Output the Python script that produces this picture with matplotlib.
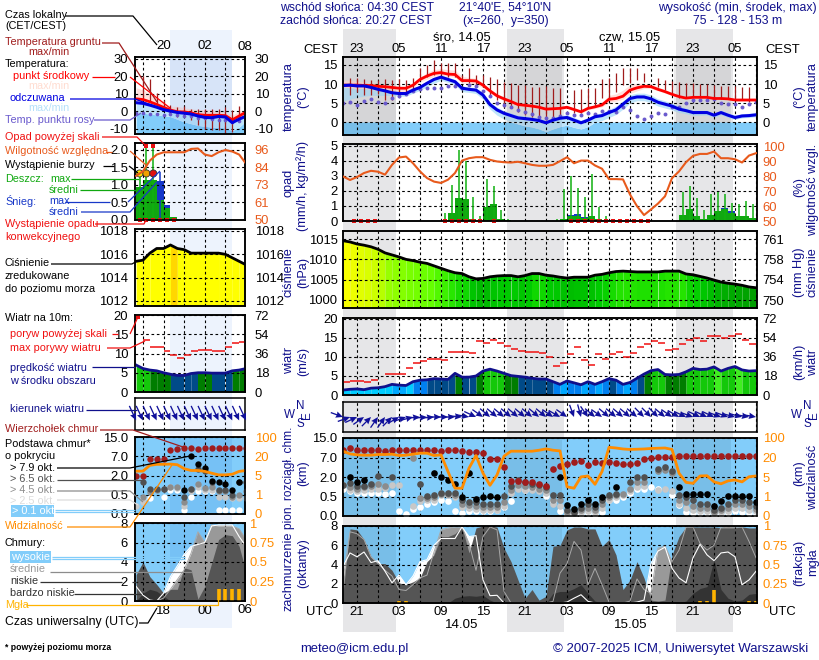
import numpy as np
import matplotlib
matplotlib.use('Agg')
import matplotlib.pyplot as plt
from matplotlib.colors import LinearSegmentedColormap, ListedColormap, BoundaryNorm, Normalize

plt.rcParams['font.family'] = ['Liberation Sans', 'DejaVu Sans']
plt.rcParams['font.size'] = 7.8

n = np.nan

# ---- main panel, hourly from 21 CEST on 13.05 ----
temp_mid = [9.7,9.7,9.7,9.6,9.6,9.4,9.3,9.1,8.9,8.9,9.7,11.2,12.1,12.8,13,12.6,12.5,10.9,10.9,10.8,9.7,8.2,6.9,6.1,5.4,4.6,4.4,4.2,3.9,3.4,
            3.5,3.6,3.9,3.3,2.7,3.6,4,4.5,6,6.2,6.8,8.4,9,9.4,9.3,8.6,8,7.3,6.7,6.3,6.5,6.5,6.5,6.2,6.2,6.1,5.8,5.8,5.8,5.8]
temp_max = [11,11,10.8,10.6,10,9.8,9.5,9.3,9.2,9.2,10,11.8,13,13.8,14,13.8,13.6,12,11.7,11.5,10.3,8.7,7.5,6.6,5.8,5,4.8,4.6,4.2,3.8,
            3.8,3.9,4.2,3.7,3.1,4,4.6,5.3,7,7.4,8.4,9.8,10.2,10.2,10,9.2,8.5,7.6,6.9,6.5,6.7,6.7,6.7,6.4,6.4,6.3,6,6,6,6]
temp_min = [9.2,9,8.8,8.8,8.6,8.2,8,8,8,8,9,10.5,11.3,12,12.3,12,11.8,10.2,10.2,10,9,7.6,6.4,5.6,5,4.2,4,3.8,3.5,3,
            3.1,3.2,3.5,2.9,2.3,3.2,3.6,4,5.2,5.5,6,7.5,8.2,8.8,8.8,8.2,7.6,7,6.4,6,6.2,6.2,6.2,5.9,5.9,5.8,5.5,5.5,5.5,5.5]
felt = [9.6,9.7,9.5,9.5,9.1,8.6,8.2,7.7,7.5,7.5,8.4,9.1,10.2,11.2,11.8,11.2,10.6,8.9,8.6,8.4,7.1,4.6,3.2,2.3,1.7,1.1,.9,.7,.4,-.2,
        .5,1,1.2,.5,-.2,.5,1.4,1.7,2.5,3.2,4.7,6.2,6.6,6.6,6.1,5.2,4.7,4.2,3.4,3,2.5,2.5,2.5,1.8,2.5,1.8,1.2,1.6,1.7,1.9]
felt_max = [9.8,9.8,9.7,9.7,9.4,8.9,8.6,8.1,7.9,7.9,8.8,9.6,10.7,11.8,12.4,11.8,11.2,9.5,9.2,9,7.7,5.2,3.9,3,2.4,1.8,1.6,1.4,1,.5,
            1.2,1.7,1.9,1.2,.5,1.2,2.1,2.4,3.3,4.2,5.6,7.2,7.6,7.6,7.1,6.1,5.6,5,4.2,3.7,3.1,3.1,3.1,2.4,3.1,2.4,1.8,2.2,2.3,2.5]
felt_min = [5.5,6,6.5,6.8,7,7,7,7,6.8,6.8,7.6,8.3,9.3,10.2,11,10.4,9.8,8,7.8,7.5,6,3.4,1.8,.8,.2,-.5,-1,-1.3,-1.8,-2.5,
            -1.8,-1.2,-.8,-1.4,-1.8,-1.2,0,.4,1.2,2,3.4,5,5.6,5.6,5.1,4.2,3.7,3.2,2.5,2.2,1.8,1.8,1.8,1.2,1.9,1.2,.7,1.1,1.2,1.4]
dew = [4.9,5.2,4.5,5.6,6,5.4,4.9,6.2,6.8,7.5,8.2,8.6,8.9,8.9,9,9.6,9.6,9,9.7,9.5,8.2,6.8,5,4.5,3.9,3.2,2.6,2.1,1.4,1,
       1,1.7,2.5,1.8,1.8,2.5,2.1,2.9,2.9,2.7,4,3.2,1.7,.7,1.7,2.3,2,4,4,5,5.8,5.8,5.8,6,4.9,4.7,4.7,3.9,4.7,5.3]
ground_top = [n,11.5,11.5,11.2,11,11,11.2,11,11.2,11,11.5,14.1,15,16.3,15.4,15.4,15.4,12.4,14.1,12.4,12.4,11.8,11.2,10.6,10.2,9.7,9.7,9.3,9.1,9.5,
              8.9,8.9,n,8.4,8.6,8.9,8.9,11.3,11.5,12.8,14.3,14.3,14.1,13,n,11.5,11,10.8,10.4,10.2,10.2,10,10,9.7,9.5,9.5,9.5,9.3,9.1,n]
ground_bot = [n,7.1,8,7.1,7.1,7.5,5.8,5.8,7.5,7.5,8.4,11,11.9,12.4,12.4,11.9,11.9,11,10.2,9.7,9.3,6.7,5.8,4,3.6,2.7,1.8,1.4,1.4,.5,
              1.4,1.8,n,2.3,2.3,4,4,6.2,6.2,8,9.7,10.2,11,10.6,n,9.3,8.4,7.1,6.2,6.2,6.7,6.7,6.2,6.2,6,6,5.8,5.8,5.4,n]

humidity = [80.1,77.7,79.7,82.4,83.9,83.3,81.3,87.9,92.9,93.5,89,83.5,79,76.6,75.7,77.9,82.4,90.8,92.4,93.1,93.1,91.3,90.2,89.7,89.5,90,89,87.9,87.3,87.3,
            87.9,90.4,93.1,89,90.8,90.8,87.5,85.3,78.3,78.3,78.1,67.9,60,54,57.8,61.8,66.7,79,83.5,89.7,94,95.3,95.3,96.9,92.4,92.4,91.7,89.5,94.2,95.8]
rain_mean = [0]*15 + [.5,1.55,1.45,.1,0,.9,1.1,.1,.05] + [0]*7 + [.1,.33,.33,.2,.3,.15,.05,.05] + [0]*9 + [.38,.8,.33,.1,.38,.65,.8,.55,.33,.33,.2]
rain_max = [0]*14 + [.5,2.4,4.7,4,1.6,.3,2.8,2.3,.75,.1] + [0]*6 + [.1,2.1,3,2.2,1.6,3.1,.9,.3,.15,.1] + [0]*8 + [1.9,2.3,1.5,.7,1.8,1.9,1.8,1.2,1.1,1.3,1.1]
snow_mean = [0]*32 + [.08,.12,.05,.05] + [0]*18 + [.05,.1] + [0]*3
conv_hours = [1,2,3,4,14,15,16,17,18,19,21,32,33,34,35,36,37,38,39,40,41,42,43]

pressure = [1014.6,1014.3,1013.8,1013.5,1013.1,1012.5,1011.6,1011.1,1010.6,1010,1009.7,1009.3,1009,1008.4,1007.8,1007.2,1006.7,1006.5,1005.7,1005.2,1005.3,1005.7,1005.9,1006,1006,1005.7,1006,1006.5,1006.5,1006.1,
            1005.9,1005.6,1005.4,1005.6,1005.6,1005.6,1006.1,1006.3,1006.7,1007,1007.1,1007,1006.9,1006.9,1006.9,1006.9,1007.1,1007.1,1007.1,1006.4,1006.2,1005.8,1005.4,1004.9,1004.4,1004.1,1003.9,1003.6,1003.2,1003]

wind = [1.3,1.5,1.6,1.4,1.8,1.9,2.2,2.8,2.6,2.5,3.5,3.9,4,4.3,4.2,4.1,5.7,4.7,4.7,5,6.3,6.8,6.3,5.7,5.1,4.9,4.7,4.4,4.2,4.2,
        3.5,2.8,3.7,3.2,2.7,3.5,2.8,3.5,4.3,3.9,2.8,3.3,4.4,5.5,6.4,6.7,5.4,5.3,5.4,6.1,7,6.7,6.8,7.4,6.3,7,7.5,6.6,6.3,6.4]
gust = [3.5,3.7,3.7,3.4,3.9,n,5.4,5.4,5.4,7,8.4,8.9,9.6,9.6,9.1,11.4,11.4,11.3,11,14.1,13.8,14.4,13.8,13,12,11.7,11.4,11.4,11.1,9.9,
        7.5,8.4,10.7,12.5,9.3,7.8,10.7,9.6,10.7,11.2,9.9,11,12.7,13.4,14.1,13.6,11.8,12.2,13.4,14.6,14.9,14.1,15.4,15.4,15.1,15.4,16,14.4,13.4]
wind_dir = [290,250,245,235,225,215,215,225,240,250,255,265,265,265,270,270,270,275,280,295,305,310,310,310,310,310,310,310,310,310,
            305,300,305,340,345,325,310,305,310,310,310,310,310,315,315,315,310,305,300,295,290,295,295,295,290,290,285,285,280,280]

cloud_top = [10.2,10.8,10.2,10.2,10.2,10.2,9.8,10.2,10.2,10.2,10.2,10.2,10.2,10.2,9.8,10,10,9.8,9.3,9.3,8.9,6.7,6.7,4.5,1.7,1.7,1.6,1.6,1.5,1.3,
             4.1,4.9,5.4,5.9,6,5.1,5.8,5.7,5.8,5.6,5.3,5.3,5.6,6.5,7,7.2,7.3,7.3,7.7,7.7,7.7,7.7,7.7,7.7,7.7,7.7,7.7,7.7,7.7,7.7]
base_black = [n,2.05,1.6,1.8,n,n,n,n,n,n,n,n,n,2.9,2,1.8,1.5,.5,3.1,.43,.5,.55,.5,n,n,n,n,n,n,n,
              n,2,.28,.18,.3,.4,.31,.5,n,1.2,n,n,n,n,n,n,n,n,1.2,.73,.7,.73,.73,.26,.38,.55,.55,.52,.52,.35]
base_dark = [1.4,1.55,1.3,1.3,1.5,2.3,n,2.05,n,n,n,1.5,.55,.6,.8,.8,.8,.4,.37,.35,.32,.31,.31,.55,1.27,1.75,1.6,1.5,1.4,1.2,
             .6,.6,.15,.1,.2,.3,.22,.4,.6,.7,n,1.65,2.1,2.1,n,4,4.5,3.5,.6,.5,.4,.3,.3,.15,.2,.3,.4,.4,.35,.25]
base_mid = [n,1.2,1.1,1.2,1.3,1.5,1.3,n,n,n,7,.45,.45,.5,.7,.7,.6,.3,.28,.25,.22,.22,.22,.35,1,1.4,1.3,1.2,1.1,1,
            .4,.4,.1,.08,.15,.2,.15,.3,.5,.6,.7,1.1,1.6,1.6,n,3.5,3.8,3,.4,.35,.25,.2,.2,.1,.15,.2,.3,.3,.25,.18]
base_light = [1.35,1,.95,1,1.1,1.1,1.15,1.4,1.35,n,.25,.38,.42,.42,.6,.6,.5,.22,.2,.18,.16,.16,.16,.25,.8,1.1,1,1,.9,.8,
              .3,.25,.06,.05,.1,.13,.1,.2,.4,.5,.6,.9,1.2,1.3,n,1,1.05,.9,.3,.2,.15,.14,.14,.08,.1,.12,.2,.2,.15,.12]
base_white = [1.1,.9,.8,.8,.8,.75,.7,.8,.13,.06,.18,.22,.3,.35,.42,.38,.13,.08,.12,.12,.12,.12,.15,.24,.38,n,1,1.05,1.05,.55,
              .38,.12,.03,.02,.06,.08,.05,.1,.42,.42,.5,.75,1.1,1.1,1.25,1.05,n,.6,.28,.1,.07,.07,.07,.03,.05,.07,.12,.1,.08,.04]
visibility = [45.8,34.9,30.8,29.5,29.5,32.2,32.2,33.6,28.1,29.5,33.6,37.6,37.6,28.1,30.8,9.2,2.7,2.7,11.8,28.1,7.9,3.3,6.6,25.4,45.8,45.8,45.8,45.8,49.8,55.3,
              49.8,47,3,2.7,5.1,5.8,3.5,9.2,62,59,55,53,54,55,57,58,59,53,7.9,3.9,3.7,5.8,6,4,3.6,4.2,4.4,4,5.2,5.8]

cloud_high = [3.8,5.2,4.8,5.3,4.2,4.4,3.3,2.1,2.9,1.9,2.8,4.3,4.5,6,6.7,6.7,6.7,7.9,6.9,7,2.4,.76,.8,0,0,0,0,0,0,0,
              0,0,.1,.5,.86,.17,0,0,0,0,0,0,.1,.3,4.1,5.4,5.8,3.6,2.6,2.1,4.7,6.1,5,4.4,5.2,5.3,4.8,1.9,2.4,3.3]
cloud_mid = [2.4,7.4,7.2,6.6,4.8,4.1,3.4,2.8,1.4,1.3,1.9,2.6,2.9,5.3,7.6,7.8,7.9,7.9,6.2,3.4,6.9,7.9,7.6,1.2,0,0,0,0,0,0,
             .17,3.1,4.1,6.4,5.5,1.9,3.6,1.9,.1,0,0,.2,2.5,1.4,1,5.7,5.9,4.3,5.5,7.9,7.9,6.2,5.5,6,7.9,8,7.9,7.9,6.4,4.7]
cloud_low = [1,7.7,7.6,6.6,4.8,4.1,4.1,3.4,2.1,1.9,2.2,2.6,4.3,5,6.9,6.9,7.2,7.9,5.2,7.8,8,8,7.9,5.7,4.3,2.4,.5,1.4,.3,.7,
             5.9,6,7.6,7.9,7.9,7.7,7.7,5.9,6.6,5,1.4,2.4,4.3,2.6,.3,.2,.3,5,6.9,7.9,7.9,7.9,7.9,7.9,7.8,7.8,7.8,7.9,7.8,7.8]
cloud_vlow = [0,0,0,0,0,0,0,0,.3,.17,0,0,0,0,0,0,.5,.7,.76,.7,.8,.3,0,0,0,0,0,0,0,0,
              1,1.2,1.2,1.5,1.9,1,.2,0,0,0,0,0,0,0,0,0,0,0,0,.2,1,1.5,1.7,4.5,1.4,.5,.2,.3,.9,1]
fog = [0,0,0,0,0,0,0,0,.03,.03,0,0,0,0,0,0,0,0,0,0,0,0,0,0,0,0,0,0,0,0,
       0,0,0,0,0,0,0,0,0,0,0,0,0,0,0,0,0,0,0,0,0,.03,.03,.17,0,0,0,0,.03,.03]

# ---- small panel on the left, hourly from 16 CEST on 13.05 ----
l_temp_mid = [7.2,6.8,5.5,4,2.3,.8,-.2,-.3,-.8,-1.8,-2.2,-2.2,-2.2,-2.4,-4.8,-2.6,-.4]
l_temp_max = [13.5,12.4,10,7.6,5.3,2.9,2.9,2,1.5,1,1,1,.2,-.4,-2.3,.2,.6]
l_temp_min = [6,5.5,4.5,3,1.5,0,-.8,-1,-1.5,-2.5,-3,-3,-3,-3.2,-5.5,-3.5,-1.2]
l_felt = [5,4.6,3.6,2.4,1,.2,-.6,-1,-1.5,-2.6,-3.4,-3.6,-2.9,-3.2,-6.4,-4.4,-2.7]
l_felt_max = [5.3,4.9,3.9,2.7,1.3,.5,-.3,-.7,-1.2,-2.3,-3.1,-3.3,-2.6,-2.9,-6.1,-4.1,-2.4]
l_felt_min = [-1,-1,-1.5,-2,-2.5,-3,-4.5,-6,-7,-8,-8.5,-9,-9,-9.5,-11,-9,-5.5]
l_dew = [-1,-1,-1.5,-1.5,-2,-1.5,-2,-2.5,-2.8,-3.5,-4,-4.5,-4.8,-5,-6,-5.5,-4.5]
l_ground_top = [n,20,18.7,10.5,6.3,3.4,2.5,2.9,1.5,1.5,1.5,1.5,1.5,2.5,.6,2.9,n]
l_ground_bot = [n,6.3,6,4.4,1.5,-2.3,-3.2,-3.2,-5.1,-8,-9.9,-10.9,-10.9,-12.8,-11.8,-3.2,n]

l_humidity = [79,82,89,93,94.5,94.5,94.5,94.5,96.7,97,93,92,94.5,96,95,93,87]
l_rain_mean = [.95,1.15,1.15,.57,.33,.08,0,0,0,0,0,0,0,0,0,0]
l_rain_max = [1.3,2.1,2.1,0,0,0,0,0,0,0,0,0,0,0,0,0]
l_snow_mean = [0,0,0,.53,.1,0,0,0,0,0,0,0,0,0,0,0]
l_snow_max = [0,0,0,1.38,0,0,0,0,0,0,0,0,0,0,0,0]
l_storm = [1.33,1.33,1.33]
l_storm_colors = ['#ffe600', '#f0a000', '#e01010']
l_over_scale = [2.1,2.1]
l_conv_hours = [0,1,2,3,4,5]

l_pressure = [1015.4,1015.5,1016.1,1016.5,1016.5,1016.8,1016.5,1016.4,1016.1,1016.1,1016.1,1016.1,1016.1,1016,1015.7,1015.4,1015.1]

l_wind = [7,6.1,5.7,5.5,5,4.6,4.3,4.3,4.8,5,5,4.9,4.9,4.9,5.5,5.7,6.1]
l_gust = [n,13.4,11.7,11.7,10.6,9.6,8.8,9.7,10.6,10.9,10.9,10.6,10.6,11.7,12.6,13]
l_wind_dir = [335,335,335,335,335,335,335,335,335,335,335,335,335,335,335,335,335]

l_cloud_top = [2,2,6.3,6.3,6.2,9.5,10.2,10.5,10.5,9.9,10.5,10.5,10.5,10.5,10.5,10.5,10.5]
l_base_black = [n,n,n,n,n,n,n,.9,7,4.9,3.9,1.6,1.5,1.3,.9,1.5,n]
l_base_dark = [n,1.5,.95,.95,.95,n,n,.45,.95,3.8,3.2,1.5,.9,.9,.5,1.5,1.5]
l_base_mid = [n,.45,.7,.9,.95,1.1,1.1,.3,.95,1.3,1,1.1,.8,.8,.45,.5,.8]
l_base_light = [.22,.3,n,n,n,1.1,1,.2,.8,1.1,.85,.9,.45,.45,.42,.42,.42]
l_base_white = [n,.42,.42,n,.45,.9,.9,.1,.45,.8,.8,.8,.1,.1,.1,.1,n]
l_visibility = [8.4,8.4,12.9,13.7,13.7,13.9,13.4,10.3,8.9,8.9,8.2,6.8,5.5,5.5,6,8.2,8.9]

l_cloud_high = [1.5,.6,.1,0,.8,2.5,3.6,4.8,5.6,5.8,6,7.7,7.8,7.8,7.8,6.6,5.6]
l_cloud_mid = [0,0,0,0,.3,1.2,2.2,3.2,4.9,7.1,6,7.8,7.7,7.7,7.7,7.4,6.3]
l_cloud_low = [2.7,4,2.5,1.7,.8,1.2,1.2,3.4,3.2,.2,1.5,3.9,6.3,6.8,6.7,5.6,3]
l_cloud_vlow = [0,.8,1.2,1,.5,0,0,0,0,0,0,0,0,0,0,0,0]
l_fog = [0,0,0,0,0,0,0,0,0,0,0,0,.15,.15,.15,.15,0]

# tick labels
hours_main = np.arange(60)
hours_left = np.arange(17)
cest_labels = ['23','05','11','17','23','05','11','17','23','05']
utc_labels = ['21','03','09','15','21','03','09','15','21','03']
left_cest = ['20','02','08']
left_utc = ['18','00','06']
km_ticks = [0,.5,2,7,15]
km_labels = ['0.0','0.5','2.0','7.0','15.0']
vis_ticks = [0,1,5,20,100]
vis_labels = ['0','1','5','20','100']

NAVY = '#10108c'
ORANGE = '#ff8c00'
RH_COL = '#e85a1c'
SKY = '#82cdfa'
RED_D = '#a01c1c'
PURPLE = '#6a5acd'
FOG = '#ffb300'

fig = plt.figure(figsize=(8.2, 6.6), dpi=100, facecolor='white')


def px_axes(x0, y0, x1, y1, z=2):
    # axes placed by pixel box, y counted from the top of the image
    ax = fig.add_axes([x0/820, 1-y1/660, (x1-x0)/820, (y1-y0)/660], zorder=z)
    ax.patch.set_alpha(0)
    for s in ax.spines.values():
        s.set_linewidth(1.1)
    ax.tick_params(length=0)
    return ax


bg = px_axes(0, 0, 820, 660, z=0)
bg.set_xlim(0, 820)
bg.set_ylim(660, 0)
bg.axis('off')
for a, b in [(343, 396), (507, 564), (676, 733)]:
    bg.axvspan(a, b, ymin=1-632/660, ymax=1-29/660, color='#e6e6e8', lw=0)
bg.axvspan(170, 232, ymin=1-628/660, ymax=1-30/660, color='#edf3fd', lw=0)

ov = px_axes(0, 0, 820, 660, z=10)
ov.set_xlim(0, 820)
ov.set_ylim(660, 0)
ov.axis('off')


def main_axes(y0, y1, top=False, bottom=False):
    ax = px_axes(343, y0, 757, y1)
    ax.set_xlim(0, 59.14)
    ax.set_xticks(np.arange(2, 60, 3))
    labels = [''] * 20
    if top or bottom:
        src = cest_labels if top else utc_labels
        labels = [src[i//2] if i % 2 == 0 else '' for i in range(20)]
    ax.set_xticklabels(labels, fontsize=9.4)
    if top:
        ax.xaxis.tick_top()
    ax.tick_params(axis='x', pad=1.5 if top else 2.5, length=0)
    ax.grid(True, color='black', lw=0.8, ls=(0, (2.4, 2.4)))
    return ax


def left_axes(y0, y1, top=False, bottom=False):
    ax = px_axes(135, y0, 245, y1)
    ax.set_xlim(-0.16, 15.85)
    ax.set_xticks(np.arange(1, 16, 3))
    ax.set_xlim(-0.16, 15.85)
    labels = [''] * 5
    ax.set_xticklabels(labels)
    if top:
        ax.xaxis.tick_top()
    ax.tick_params(axis='x', length=0)
    ax.grid(True, color='black', lw=0.8, ls=(0, (2.4, 2.4)))
    return ax


def ticks_both(ax, ticks, labels, r_ticks, r_labels, r_lim, l_col='black', r_col='black', pad_l=4, pad_r=4, scale=None):
    ax.set_yticks(ticks)
    ax.set_yticklabels(labels, color=l_col, fontsize=9.4)
    ax.tick_params(axis='y', pad=pad_l, length=0)
    tw = ax.twinx()
    tw.patch.set_alpha(0)
    if scale is not None:
        tw.set_yscale('function', functions=scale)
    tw.set_ylim(*r_lim)
    tw.set_yticks(r_ticks)
    tw.set_yticklabels(r_labels, color=r_col, fontsize=9.4)
    tw.minorticks_off()
    tw.tick_params(axis='y', pad=pad_r, length=0)
    for s in tw.spines.values():
        s.set_linewidth(1.1)
    return tw


def draw_temp(ax, h, mid, tmax, tmin, fl, fmax, fmin, dw, gt, gb, dot=8):
    bottom = ax.get_ylim()[0]
    ax.fill_between(h, bottom, np.minimum(0, fmin), color=SKY, lw=0, zorder=0.9)
    ax.fill_between(h, fmin, fmax, color='#bfe5fb', lw=0, zorder=0.95)
    ax.fill_between(h, tmin, tmax, color='#ffe0dc', lw=0, zorder=0.96)
    ax.vlines(h, gb, gt, color=RED_D, lw=0.9, zorder=2)
    ax.scatter(h, dw, s=dot, color=PURPLE, lw=0, zorder=2.2, marker='o')
    ax.plot(h, mid, color='#ff0000', lw=2, zorder=3)
    ax.plot(h, fl, color='#0000e0', lw=2.2, zorder=3.1)


def draw_rain(ax, tw, h, mean, rmax, snow, rh, conv):
    ib = np.arange(len(mean)) + 0.5
    ax.bar(ib, np.array(mean) + np.array(snow), width=1, color='#1838c8', lw=0)
    ax.bar(ib, mean, width=1, color='#10a810', lw=0)
    ax.vlines(ib, 0, rmax, color='#10b010', lw=1.1, zorder=2)
    ax.scatter(np.array(conv) + 0.5, [0]*len(conv), s=7, marker='s', color='#e81010', lw=0, clip_on=False, zorder=4)
    tw.plot(h, rh, color=RH_COL, lw=1.5, zorder=3)


def segments(ax, h, v, bottom, cmap, norm):
    # one coloured slice per time step under the curve
    for i in range(len(h)-1):
        ax.fill_between(h[i:i+2], bottom, v[i:i+2], color=cmap(norm(v[i])), lw=0, zorder=0.9, antialiased=False)


def draw_dirs(ax, h, d, length=13, level=0):
    rad = np.radians(d)
    ax.quiver(h, np.full(len(h), level), -np.sin(rad), -np.cos(rad), angles='uv', scale_units='dots', scale=1/length,
              units='dots', width=1.3, headwidth=5, headlength=5.5, headaxislength=5, pivot='tip', color='#10109a',
              zorder=3, clip_on=False)
    ax.set_ylim(-1, 1)
    ax.set_yticks([])


def km_fw(v):
    return np.interp(v, km_ticks, [0, 1, 2, 3, 4])


def km_inv(v):
    return np.interp(v, [0, 1, 2, 3, 4], km_ticks)


def vis_fw(v):
    return np.interp(v, vis_ticks, [0, 1, 2, 3, 4])


def vis_inv(v):
    return np.interp(v, [0, 1, 2, 3, 4], vis_ticks)


def draw_base(ax, h, top, black, dark, mid, light, white, s=23):
    for vals, col in [(white, 'white'), (light, '#c8c8c8'), (mid, '#8c8c8c'), (dark, '#505050'), (black, 'black')]:
        ax.scatter(h, vals, s=s, color=col, lw=0, zorder=3)
    ax.scatter(h, top, s=s, color=RED_D, lw=0, zorder=3.5)


def draw_cloud(ax, h, high, mid, low, vlow, foglev):
    ax.fill_between(h, 0, high, color='white', lw=0, zorder=1.1)
    ax.fill_between(h, 0, mid, color='#999999', lw=0, zorder=1.2)
    ax.fill_between(h, 0, low, color='#555555', lw=0, zorder=1.3)
    ax.fill_between(h, 0, vlow, color='#333333', lw=0, zorder=1.4)
    ax.plot(h, mid, color='#a8a8a8', lw=0.7, zorder=2)
    ax.plot(h, high, color='white', lw=0.8, zorder=2.1)
    ax.vlines(h, 0, np.array(foglev)*8, color=FOG, lw=2.6, zorder=3)


cmap_press = LinearSegmentedColormap.from_list('press', [
    (0.0, '#009c00'), (0.14, '#00b400'), (0.22, '#00cc00'), (0.32, '#33ee00'), (0.43, '#66ff00'),
    (0.62, '#99ff00'), (0.72, '#ccff00'), (0.85, '#ffff00'), (0.975, '#ffff00'), (1.0, '#ffb400')])
norm_press = Normalize(1003, 1017)
cmap_wind = ListedColormap(['#00ccff', '#00a8ff', '#0080f0', '#004a88', '#007d00', '#14c80a', '#40ee20'])
norm_wind = BoundaryNorm([0, 2.6, 3.2, 4.0, 5.0, 6.0, 7.2, 30], 7)

# ---- main column ----
ax = main_axes(57, 135, top=True)
ax.set_ylim(-3.4, 17.1)
ticks_both(ax, [0, 5, 10, 15], ['0', '5', '10', '15'], [0, 5, 10, 15], ['0', '5', '10', '15'], (-3.4, 17.1))
draw_temp(ax, hours_main, temp_mid, temp_max, temp_min, felt, felt_max, felt_min, dew, ground_top, ground_bot)
for a, b in [(0, 7.57), (23.14, 31.3), (47.3, 55.4)]:
    ax.axvspan(a, b, color='black', alpha=0.07, lw=0, zorder=0.99)

ax = main_axes(144, 221)
ax.set_ylim(0, 5.13)
tw = ticks_both(ax, [0, 1, 2, 3, 4, 5], ['0', '1', '2', '3', '4', '5'], [50, 60, 70, 80, 90, 100],
                ['50', '60', '70', '80', '90', '100'], (50, 102), r_col=RH_COL)
draw_rain(ax, tw, hours_main, rain_mean, rain_max, snow_mean, humidity, conv_hours)

ax = main_axes(231, 308)
ax.set_ylim(998, 1017)
ticks_both(ax, [1000, 1005, 1010, 1015], ['1000', '1005', '1010', '1015'], [750, 753.8, 757.6, 761.3],
           ['750', '754', '758', '761'], (748.56, 762.8))
segments(ax, hours_main, pressure, 998, cmap_press, norm_press)
ax.plot(hours_main, pressure, color='black', lw=2, zorder=3)

ax = main_axes(318, 395)
ax.set_ylim(0, 20.26)
ticks_both(ax, [0, 5, 10, 15, 20], ['0', '5', '10', '15', '20'], [0, 18, 36, 54, 72],
           ['0', '18', '36', '54', '72'], (0, 72.9))
segments(ax, hours_main, wind, 0, cmap_wind, norm_wind)
ax.plot(hours_main, wind, color='#10108c', lw=2, zorder=3)
ax.hlines(gust, np.arange(len(gust)), np.arange(len(gust))+1, color='#f01010', lw=1.1, zorder=3)

ax = main_axes(402, 432)
draw_dirs(ax, hours_main, wind_dir, length=13)

ax = main_axes(438, 516)
ax.patch.set_alpha(1)
ax.patch.set_facecolor(SKY)
ax.set_yscale('function', functions=(km_fw, km_inv))
ax.set_ylim(0, 15)
ax.minorticks_off()
tw = ticks_both(ax, km_ticks, km_labels, vis_ticks, vis_labels, (0, 100), r_col=ORANGE, scale=(vis_fw, vis_inv))
tw.plot(hours_main, visibility, color=ORANGE, lw=2, zorder=2)
draw_base(ax, hours_main, cloud_top, base_black, base_dark, base_mid, base_light, base_white)
for a, b in [(0, 7.57), (23.14, 31.3), (47.3, 55.4)]:
    ax.axvspan(a, b, color='black', alpha=0.07, lw=0, zorder=0.9)

ax = main_axes(526, 603, bottom=True)
ax.patch.set_alpha(1)
ax.patch.set_facecolor(SKY)
ax.set_ylim(0, 8)
ticks_both(ax, [0, 2, 4, 6, 8], ['0', '2', '4', '6', '8'], [0, .25, .5, .75, 1],
           ['0', '0.25', '0.5', '0.75', '1'], (0, 1), r_col=ORANGE)
draw_cloud(ax, hours_main, cloud_high, cloud_mid, cloud_low, cloud_vlow, fog)
for a, b in [(0, 7.57), (23.14, 31.3), (47.3, 55.4)]:
    ax.axvspan(a, b, color='black', alpha=0.07, lw=0, zorder=0.9)

# ---- left column ----
ax = left_axes(57, 134, top=True)
ax.set_xticklabels(['', left_cest[0], '', left_cest[1], ''], fontsize=9.6)
ax.set_ylim(-12.9, 31.1)
ticks_both(ax, [-10, 0, 10, 20, 30], ['-10', '0', '10', '20', '30'], [-10, 0, 10, 20, 30],
           ['-10', '0', '10', '20', '30'], (-12.9, 31.1), pad_l=5, pad_r=7)
draw_temp(ax, hours_left, l_temp_mid, l_temp_max, l_temp_min, l_felt, l_felt_max, l_felt_min, l_dew, l_ground_top, l_ground_bot, dot=7)
ax.axvspan(4.9, 13.9, color='#0050c8', alpha=0.09, lw=0, zorder=0.99)

ax = left_axes(143, 220)
ax.set_ylim(0, 2.2)
tw = ticks_both(ax, [0, .5, 1, 1.5, 2], ['0.0', '0.5', '1.0', '1.5', '2.0'], [50, 61.5, 73, 84.5, 96],
                ['50', '61', '73', '84', '96'], (50, 100.6), r_col=RH_COL, pad_l=5, pad_r=7)
draw_rain(ax, tw, hours_left, l_rain_mean, l_rain_max, l_snow_mean, l_humidity, l_conv_hours)
ib = np.arange(16) + 0.5
ax.vlines(ib, 0, l_snow_max, color='#1838c8', lw=1.1, zorder=2)
ax.scatter(ib[:3], l_storm, s=26, color=l_storm_colors, edgecolor='#303030', lw=0.6, zorder=5)
ax.scatter(ib[1:3], l_over_scale, s=9, marker='s', color='#e81010', lw=0, zorder=5)

ax = left_axes(229, 306)
ax.set_ylim(1011.57, 1018.17)
ticks_both(ax, [1012, 1014, 1016, 1018], ['1012', '1014', '1016', '1018'], [1012, 1014, 1016, 1018],
           ['1012', '1014', '1016', '1018'], (1011.57, 1018.17), pad_l=5, pad_r=7)
segments(ax, hours_left, l_pressure, 1011.57, cmap_press, norm_press)
ax.plot(hours_left, l_pressure, color='black', lw=2, zorder=3)

ax = left_axes(315, 392)
ax.set_ylim(0, 20)
ticks_both(ax, [0, 5, 10, 15, 20], ['0', '5', '10', '15', '20'], [0, 18, 36, 54, 72],
           ['0', '18', '36', '54', '72'], (0, 72), pad_l=5, pad_r=7)
segments(ax, hours_left, l_wind, 0, cmap_wind, norm_wind)
ax.plot(hours_left, l_wind, color='#10108c', lw=2, zorder=3)
ax.hlines(l_gust, np.arange(16), np.arange(16)+1, color='#f01010', lw=1.1, zorder=3)
ax.scatter([0.3], [19.6], s=7, marker='s', color='#e81010', lw=0, zorder=4)

ax = left_axes(398, 430)
draw_dirs(ax, hours_left, l_wind_dir, length=16, level=-0.4)

ax = left_axes(437, 514)
ax.patch.set_alpha(1)
ax.patch.set_facecolor(SKY)
ax.set_yscale('function', functions=(km_fw, km_inv))
ax.set_ylim(0, 15)
ax.minorticks_off()
tw = ticks_both(ax, km_ticks, km_labels, vis_ticks, vis_labels, (0, 100), r_col=ORANGE, pad_l=5, pad_r=7, scale=(vis_fw, vis_inv))
tw.plot(hours_left, l_visibility, color=ORANGE, lw=2, zorder=2)
draw_base(ax, hours_left, l_cloud_top, l_base_black, l_base_dark, l_base_mid, l_base_light, l_base_white, s=21)
ax.axvspan(4.9, 13.9, color='#0050c8', alpha=0.09, lw=0, zorder=0.9)

ax = left_axes(523, 601, bottom=True)
ax.set_xticklabels(['', left_utc[0], '', left_utc[1], ''], fontsize=9.6)
ax.tick_params(axis='x', pad=3)
ax.patch.set_alpha(1)
ax.patch.set_facecolor(SKY)
ax.set_ylim(0, 8)
ticks_both(ax, [0, 2, 4, 6, 8], ['0', '2', '4', '6', '8'], [0, .25, .5, .75, 1],
           ['0', '0.25', '0.5', '0.75', '1'], (0, 1), r_col=ORANGE, pad_l=5, pad_r=3)
draw_cloud(ax, hours_left, l_cloud_high, l_cloud_mid, l_cloud_low, l_cloud_vlow, l_fog)
ax.axvspan(4.9, 13.9, color='#0050c8', alpha=0.09, lw=0, zorder=0.9)


# ---- texts and leader lines, in image pixels ----
def txt(x, y, s, c='black', ha='left', fs=7.8, **kw):
    ov.text(x, y, s, color=c, ha=ha, va='center', fontsize=fs, **kw)


def vtxt(x, y, s, c=NAVY, fs=9.2):
    ov.text(x, y, s, color=c, ha='center', va='center', rotation=90, fontsize=fs)


def lead(xs, ys, c, lw=0.9):
    ov.plot(xs, ys, color=c, lw=lw, solid_capstyle='butt')


txt(5, 15, 'Czas lokalny')
txt(5, 26, '(CET/CEST)')
txt(5, 42, 'Temperatura gruntu', RED_D)
txt(28, 52, 'max/min', RED_D)
txt(5, 64, 'Temperatura:')
txt(13, 76, 'punkt środkowy', '#ff0000')
txt(28, 86, 'max/min', '#ffdcd0')
txt(10, 98, 'odczuwana', '#0000e0')
txt(28, 108, 'max/min', '#b4e0fa')
txt(5, 120, 'Temp. punktu rosy', PURPLE)
txt(5, 137, 'Opad powyżej skali', '#f01010')
txt(5, 151, 'Wilgotność względna', RH_COL)
txt(5, 165, 'Wystąpienie burzy')
txt(5, 179, 'Deszcz:', '#10a810')
txt(50, 179, 'max', '#10a810')
txt(49, 190, 'średni', '#10a810')
txt(5, 201, 'Śnieg:', '#1838c8')
txt(49, 201, 'max', '#1838c8')
txt(49, 212, 'średni', '#1838c8')
txt(5, 224, 'Wystąpienie opadu', '#f01010')
txt(5, 237, 'konwekcyjnego', '#f01010')
txt(5, 263, 'Ciśnienie')
txt(5, 276, 'zredukowane')
txt(5, 289, 'do poziomu morza')
txt(5, 318, 'Wiatr na 10m:')
txt(10, 334, 'poryw powyżej skali', '#f01010')
txt(10, 348, 'max porywy wiatru', '#f01010')
txt(10, 368, 'prędkość wiatru', NAVY)
txt(10, 381, 'w środku obszaru', NAVY)
txt(10, 409, 'kierunek wiatru', NAVY)
txt(5, 429, 'Wierzchołek chmur', RED_D)
txt(5, 444, 'Podstawa chmur*')
txt(5, 456, 'o pokryciu')
txt(10, 468, '> 7.9 okt.')
txt(10, 479, '> 6.5 okt.', '#505050')
txt(10, 490, '> 4.5 okt.', '#8c8c8c')
txt(10, 501, '> 2.5 okt.', '#dcdcdc')
ov.add_patch(plt.Rectangle((11, 505), 43, 12, color=SKY, lw=0))
txt(12, 511, '> 0.1 okt.', 'white')
txt(5, 526, 'Widzialność', ORANGE)
txt(5, 543, 'Chmury:')
ov.add_patch(plt.Rectangle((10, 551), 41, 12, color=SKY, lw=0))
txt(11, 557, 'wysokie', 'white')
txt(10, 569, 'średnie', '#999999')
txt(10, 581, 'niskie', '#333333')
txt(10, 593, 'bardzo niskie', '#333333')
txt(5, 605, 'Mgła', FOG)
txt(5, 622, 'Czas uniwersalny (UTC)', fs=8.8)
txt(5, 648, '* powyżej poziomu morza', fs=6.2, fontweight='bold')

lead([65, 133, 157], [16, 16, 45], 'black')
lead([102, 119, 157], [43, 43, 102], RED_D)
lead([92, 115], [77, 77], '#ff0000')
lead([130, 170], [77, 108], '#ff0000')
lead([70, 135, 170], [99, 99, 112], '#0000e0')
lead([94, 130, 141], [120, 120, 113], PURPLE)
lead([102, 137, 146], [137, 137, 146], '#f01010')
lead([106, 112], [152, 152], RH_COL)
lead([130, 146], [151, 165], RH_COL)
lead([103, 114], [166, 166], 'black')
lead([129, 138], [166, 173], 'black')
lead([71, 139], [179, 179], '#10a810')
lead([80, 143], [190, 190], '#10a810')
lead([65, 110], [202, 202], '#1838c8')
lead([128, 160], [202, 171], '#1838c8')
lead([81, 130, 157], [212, 212, 182], '#1838c8')
lead([95, 144, 146], [224, 224, 220], '#f01010')
lead([51, 132, 137], [264, 264, 261], 'black')
lead([112, 118], [334, 334], '#f01010')
lead([130, 138], [334, 317], '#f01010')
lead([107, 130, 145], [348, 348, 341], '#f01010')
lead([92, 135], [367, 367], NAVY)
lead([86, 137], [410, 410], NAVY)
lead([100, 133, 183], [430, 430, 447], RED_D)
lead([57, 130, 190], [468, 468, 456], 'black')
lead([57, 143], [480, 480], '#505050')
lead([57, 130, 143], [491, 491, 502], '#8c8c8c')
lead([57, 130, 138], [500, 500, 505], '#dcdcdc')
lead([55, 135], [510, 510], SKY)
lead([55, 135], [512, 512], SKY)
lead([67, 130, 172], [527, 527, 465], ORANGE)
lead([52, 185], [557, 557], SKY)
lead([52, 185], [559, 559], SKY)
lead([50, 192], [572, 572], '#8c8c8c')
lead([40, 122], [582, 582], '#333333')
lead([132, 137], [582, 582], '#333333')
lead([74, 141], [594, 594], '#333333')
lead([26, 218, 218], [605, 605, 590], FOG)
lead([139, 148, 157], [623, 623, 608], 'black')

txt(245, 47, left_cest[2], ha='center', fs=9.6)
txt(245, 610, left_utc[2], ha='center', fs=9.6)

# header and footer
txt(280, 8, 'wschód słońca: 04:30 CEST', NAVY, fs=8.8)
txt(280, 21, 'zachód słońca: 20:27 CEST', NAVY, fs=8.8)
txt(505, 8, "21°40'E, 54°10'N", NAVY, ha='center', fs=8.8)
txt(506, 21, '(x=260,  y=350)', NAVY, ha='center', fs=8.8)
txt(817, 8, 'wysokość (min, środek, max)', NAVY, ha='right', fs=8.8)
txt(738, 21, '75 - 128 - 153 m', NAVY, ha='center', fs=8.8)
txt(462, 37, 'śro, 14.05', ha='center', fs=9.4)
txt(630, 37, 'czw, 15.05', ha='center', fs=9.4)
txt(303, 50, 'CEST', fs=9.4)
txt(765, 50, 'CEST', fs=9.4)
txt(306, 612, 'UTC', fs=9.4)
txt(769, 612, 'UTC', fs=9.4)
txt(462, 625, '14.05', ha='center', fs=9.6)
txt(631, 625, '15.05', ha='center', fs=9.6)
txt(300, 649, 'meteo@icm.edu.pl', NAVY, fs=9.4)
txt(553, 649, '© 2007-2025 ICM, Uniwersytet Warszawski', NAVY, fs=9.5)

# axis titles
vtxt(289, 97, 'temperatura')
vtxt(303, 97, '(°C)')
vtxt(289, 183, 'opad')
vtxt(303, 186, '(mm/h, kg/m²/h)')
vtxt(289, 272, 'ciśnienie')
vtxt(303, 272, '(hPa)')
vtxt(289, 361, 'wiatr')
vtxt(303, 361, '(m/s)')
vtxt(289, 478, 'pion. rozciągł. chm.', fs=8.6)
vtxt(303, 473, '(km)')
vtxt(289, 571, 'zachmurzenie')
vtxt(303, 563, '(oktanty)')
vtxt(799, 97, '(°C)')
vtxt(813, 97, 'temperatura')
vtxt(799, 187, '(%)')
vtxt(813, 190, 'wilgotność wzgl.')
vtxt(799, 272, '(mm Hg)')
vtxt(813, 272, 'ciśnienie')
vtxt(799, 362, '(km/h)')
vtxt(813, 362, 'wiatr')
vtxt(799, 473, '(km)')
vtxt(813, 477, 'widzialność')
vtxt(799, 563, '(frakcja)')
vtxt(813, 562, 'mgła')

# compass letters next to the wind direction strip
for x0 in (289, 796):
    txt(x0, 415, 'W', NAVY, ha='center', fs=8.4)
    txt(x0+11, 406, 'N', NAVY, ha='center', fs=8.4)
    txt(x0+11, 424, 'S', NAVY, ha='center', fs=8.4)
    txt(x0+18, 415, 'E', NAVY, ha='center', fs=8.4, rotation=90)

plt.savefig('out.png', dpi=100)
